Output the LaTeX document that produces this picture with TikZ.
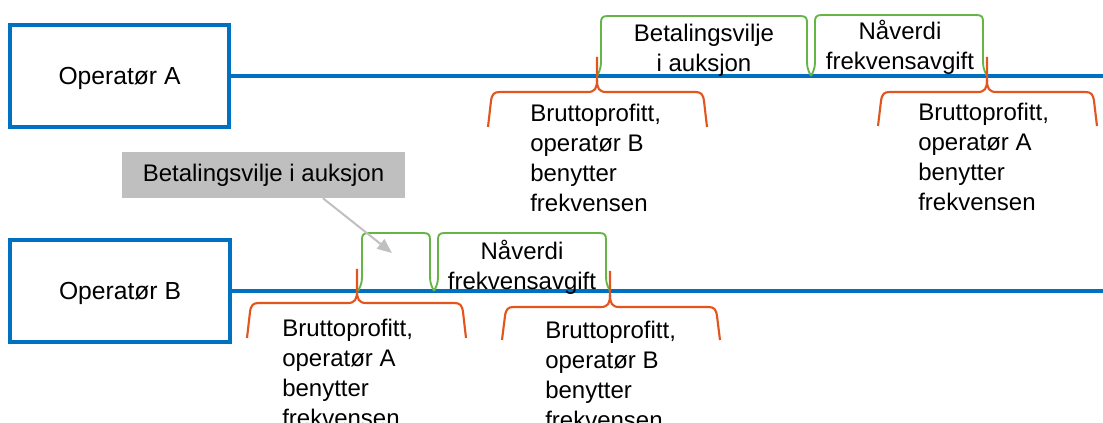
\documentclass[tikz,border=0pt]{standalone}
\usepackage{fontspec}
\setmainfont{Liberation Sans}
\usetikzlibrary{arrows.meta,calc}
\definecolor{opblue}{RGB}{0,112,192}
\definecolor{brgreen}{RGB}{100,180,70}
\definecolor{brorange}{RGB}{226,86,30}
\definecolor{callgray}{RGB}{191,191,191}
\definecolor{arrgray}{RGB}{192,192,192}
\tikzset{
  opbox/.style={draw=opblue, line width=3pt, fill=white, minimum width=164.5pt, minimum height=76pt, text depth=0pt, font=\fontsize{18.5}{22}\selectfont},
  timeline/.style={draw=opblue, line width=3pt},
  greenbr/.style={draw=brgreen, line width=1.4pt},
  orangebr/.style={draw=brorange, line width=1.6pt},
  ltext/.style={anchor=north west, inner sep=0pt, align=left, font=\fontsize{18}{22.5}\selectfont},
  ctext/.style={anchor=north, inner sep=0pt, align=center, font=\fontsize{18}{22.5}\selectfont},
  callbox/.style={fill=callgray, draw=none, minimum width=212pt, minimum height=34.5pt, font=\fontsize{18}{22}\selectfont},
  callarrow/.style={draw=arrgray, line width=1.5pt, -{Triangle[length=11pt,width=9pt]}},
}
% green bracket: x1, x2, ytop, ybot
\newcommand\gbr[4]{%
  \draw[greenbr] (#1,#4) .. controls ({#1+4},{#4-8}) .. ({#1+4},{#4-22})
    -- ({#1+4},{#3+7}) .. controls ({#1+4},{#3+2}) and ({#1+5},#3) .. ({#1+11},#3)
    -- ({#2-11},#3) .. controls ({#2-5},#3) and ({#2-4},{#3+2}) .. ({#2-4},{#3+7})
    -- ({#2-4},{#4-22}) .. controls ({#2-4},{#4-8}) .. (#2,#4);}
% orange brace: x1, xm, x2, ytop, ybot, ytip
\newcommand\obr[6]{%
  \draw[orangebr] (#1,#5) -- ({#1+3},{#4+9}) .. controls ({#1+4},{#4+2}) and ({#1+6},#4) .. ({#1+12},#4)
    -- ({#2-9},#4) .. controls ({#2-2},#4) and (#2,{#4-4}) .. (#2,{#4-12}) -- (#2,#6);
  \draw[orangebr] (#2,{#4-12}) .. controls (#2,{#4-4}) and ({#2+2},#4) .. ({#2+9},#4)
    -- ({#3-12},#4) .. controls ({#3-6},#4) and ({#3-4},{#4+2}) .. ({#3-3},{#4+9}) -- (#3,#5);}
\begin{document}
\begin{tikzpicture}[x=0.75pt,y=-0.75pt]
\useasboundingbox (0,0) rectangle (1103,423);
% boxes
\node[opbox] (opA) at (119.5,76) {Operatør A};
\node[opbox, minimum width=165pt] (opB) at (120,291) {Operatør B};
\coordinate (endA) at (1103,76);
\coordinate (endB) at (1103,291);
\draw[timeline] (opA.east) -- (endA);
\draw[timeline] (opB.east) -- (endB);
% row A
\gbr{597}{811}{16}{76}
\gbr{811}{987}{15}{76}
\node[ctext] (betA) at (704,24) {Betalingsvilje\\i auksjon};
\node[ctext] (navA) at (900,20) {Nåverdi\\frekvensavgift};
\obr{488}{597}{707}{92}{127}{57}
\obr{878}{987}{1097}{92}{126}{57}
\node[ltext] (brA1) at (530,104) {Bruttoprofitt,\\operatør B\\benytter\\frekvensen};
\node[ltext] (brA2) at (918,103) {Bruttoprofitt,\\operatør A\\benytter\\frekvensen};
% row B
\gbr{358}{434}{233}{291}
\gbr{434}{610}{233}{291}
\node[ctext] (navB) at (522,240) {Nåverdi\\frekvensavgift};
\obr{247}{357}{466}{303}{338}{269}
\obr{502}{610}{720}{307}{340}{271}
\node[ltext] (brB1) at (282,319) {Bruttoprofitt,\\operatør A\\benytter\\frekvensen};
\node[ltext] (brB2) at (545,321) {Bruttoprofitt,\\operatør B\\benytter\\frekvensen};
% callout
\node[callbox] (call) at (263.5,175) {Betalingsvilje i auksjon};
\coordinate (calltip) at (392,253);
\draw[callarrow] ($(call.south west)!0.71!(call.south east)$) -- (calltip);
\end{tikzpicture}
\end{document}
